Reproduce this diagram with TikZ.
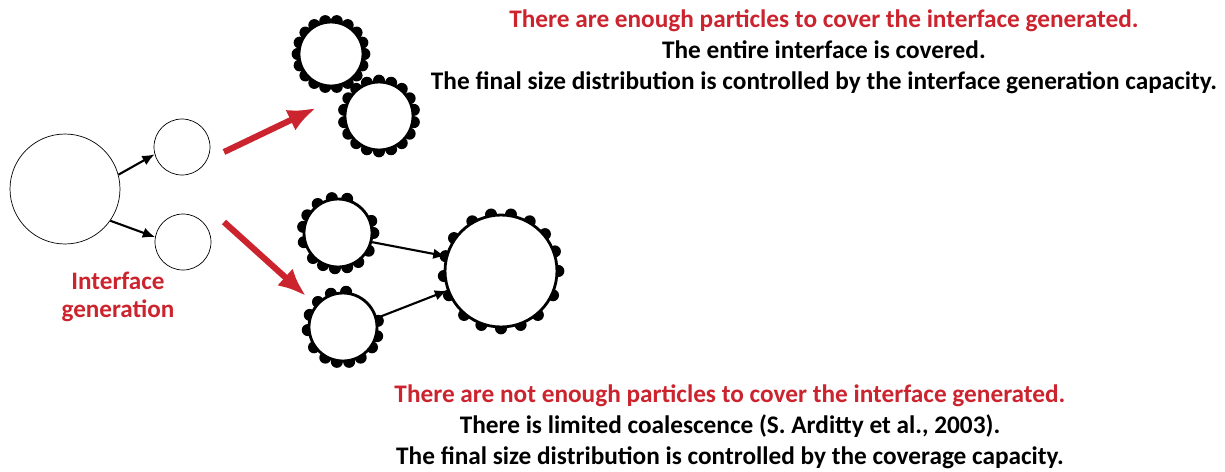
\documentclass[tikz,border=0pt]{standalone}
\usepackage{fontspec}
\setmainfont{Carlito}
\usetikzlibrary{arrows.meta}
\definecolor{gred}{RGB}{204,36,46}
\pgfdeclarelayer{background}
\pgfsetlayers{background,main}

% coated droplet: name, centre, radius (px), bump angles
\newcommand{\coated}[4]{%
  \node[drop, minimum size=#3*0.04cm] (#1) at #2 {};
  \begin{pgfonlayer}{background}
    \foreach \a in {#4} \fill (#1.\a) circle (0.12cm);
  \end{pgfonlayer}}

\begin{document}
\begin{tikzpicture}[x=0.02cm, y=-0.02cm,
    every node/.style={font=\bfseries\fontsize{14.4}{17.6}\selectfont},
    bare/.style={circle, draw, thin, fill=white, inner sep=0pt},
    drop/.style={circle, draw, line width=1.6pt, fill=white, inner sep=0pt},
    split/.style={-{Latex[length=7pt, width=6pt]}, line width=1.2pt},
    route/.style={-{Latex[length=16pt, width=13pt]}, line width=3.5pt, gred},
    note/.style={align=center, text=black}]
    \useasboundingbox (0,0) rectangle (1225,471);

    % interface generation
    \node[bare, minimum size=2.2cm] (big) at (65,189) {};
    \node[bare, minimum size=1.12cm] (up) at (182,147) {};
    \node[bare, minimum size=1.12cm] (lo) at (183,242) {};
    \draw[split] (big.15) -- (up.195);
    \draw[split] (big.-35) -- (lo.170);
    \node[text=gred, align=center, font=\bfseries\fontsize{14.3}{16}\selectfont] (gen) at (118,297) {Interface\\generation};

    % entire interface covered
    \coated{ta}{(331,54)}{32}{0,20,...,340}
    \coated{tb}{(379,116)}{34}{10,30,...,350}
    \draw[route] (224,152) -- (316,108);

    % limited coalescence
    \coated{la}{(338,233)}{34}{0,20,75,100,125,150,170,195,225,245,265,285,305,330}
    \coated{lb}{(343,327)}{34}{10,-15,85,110,135,160,185,215,240,260,280,300,325}
    \coated{cb}{(501,271)}{56}{0,20,40,60,80,100,120,145,165,185,205,230,250,270,290,310,335}
    \draw[route] (224,222) -- (306,296);
    \draw[split] (la.-15) -- (cb.165);
    \draw[split] (lb.15) -- (cb.200);

    % captions
    \node[note] (top) at (824,52) {\textcolor{gred}{There are enough particles to cover the interface generated.}\\
      The entire interface is covered.\\
      The final size distribution is controlled by the interface generation capacity.};
    \node[note] (bot) at (730,427) {\textcolor{gred}{There are not enough particles to cover the interface generated.}\\
      There is limited coalescence (S. Arditty et al., 2003).\\
      The final size distribution is controlled by the coverage capacity.};
\end{tikzpicture}
\end{document}
